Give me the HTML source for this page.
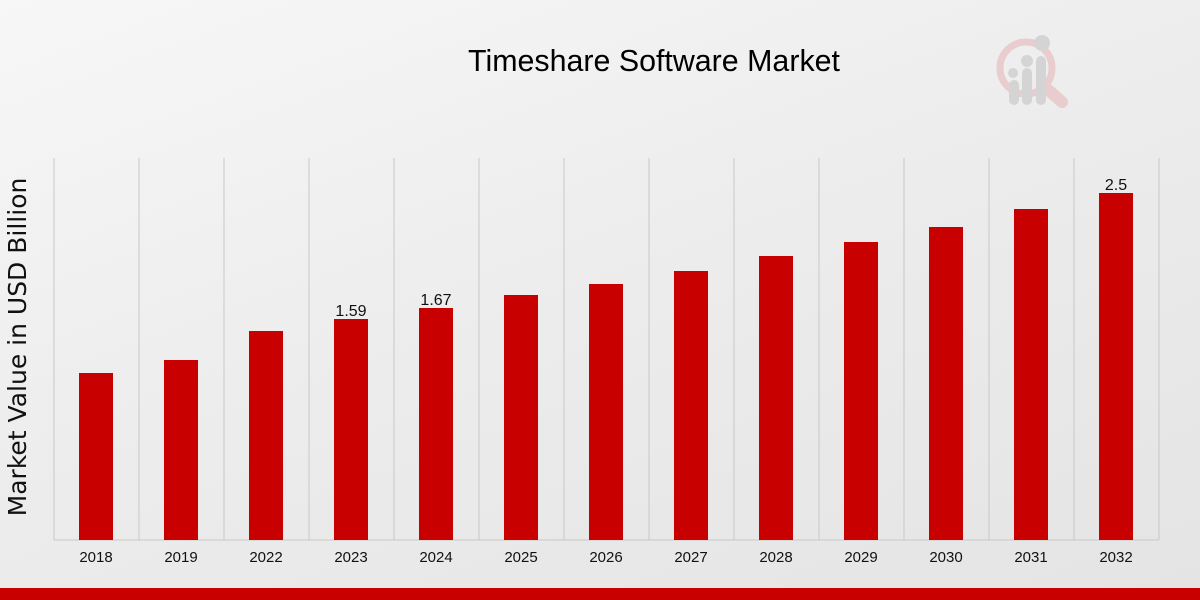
<!DOCTYPE html>
<html><head><meta charset="utf-8"><style>
html,body{margin:0;padding:0}
body{width:1200px;height:600px;overflow:hidden;background:linear-gradient(160deg,#f7f7f7 0%,#ececec 50%,#e4e4e4 100%);font-family:"Liberation Sans",sans-serif;}
</style></head><body>
<svg width="1200" height="600" xmlns="http://www.w3.org/2000/svg" style="position:absolute;left:0;top:0">
<text x="654" y="71" text-anchor="middle" font-size="31" font-family="Liberation Sans, sans-serif" transform="translate(654,0) scale(0.98,1) translate(-654,0)">Timeshare Software Market</text>
<g opacity="0.9">
<circle cx="1026" cy="68" r="26" fill="none" stroke="#e8c9cb" stroke-width="7"/>
<line x1="1046" y1="88" x2="1062" y2="102" stroke="#e8c9cb" stroke-width="12" stroke-linecap="round"/>
<rect x="1009" y="80" width="10" height="25" rx="5" fill="#d2d2d2"/>
<rect x="1022" y="68" width="10" height="37" rx="5" fill="#d2d2d2"/>
<rect x="1036" y="56" width="10" height="49" rx="5" fill="#d2d2d2"/>
<circle cx="1013" cy="73" r="5" fill="#d2d2d2"/><circle cx="1027" cy="61" r="6" fill="#d2d2d2"/><circle cx="1042" cy="43" r="8" fill="#d2d2d2"/>
</g>
<g stroke="#c8c8c8" stroke-width="1">
<line x1="54" y1="158" x2="54" y2="540"/><line x1="139" y1="158" x2="139" y2="540"/><line x1="224" y1="158" x2="224" y2="540"/><line x1="309" y1="158" x2="309" y2="540"/><line x1="394" y1="158" x2="394" y2="540"/><line x1="479" y1="158" x2="479" y2="540"/><line x1="564" y1="158" x2="564" y2="540"/><line x1="649" y1="158" x2="649" y2="540"/><line x1="734" y1="158" x2="734" y2="540"/><line x1="819" y1="158" x2="819" y2="540"/><line x1="904" y1="158" x2="904" y2="540"/><line x1="989" y1="158" x2="989" y2="540"/><line x1="1074" y1="158" x2="1074" y2="540"/><line x1="1159" y1="158" x2="1159" y2="540"/>
<line x1="54" y1="540" x2="1159" y2="540"/>
</g>
<g fill="#c80000">
<rect x="79" y="373" width="34" height="167"/>
<rect x="164" y="360" width="34" height="180"/>
<rect x="249" y="331" width="34" height="209"/>
<rect x="334" y="319" width="34" height="221"/>
<rect x="419" y="308" width="34" height="232"/>
<rect x="504" y="295" width="34" height="245"/>
<rect x="589" y="284" width="34" height="256"/>
<rect x="674" y="271" width="34" height="269"/>
<rect x="759" y="256" width="34" height="284"/>
<rect x="844" y="242" width="34" height="298"/>
<rect x="929" y="227" width="34" height="313"/>
<rect x="1014" y="209" width="34" height="331"/>
<rect x="1099" y="193" width="34" height="347"/>
</g>
<g font-size="16" text-anchor="middle" fill="#111">
<text x="351" y="316">1.59</text><text x="436" y="305">1.67</text><text x="1116" y="190">2.5</text>
</g>
<g font-size="15" text-anchor="middle" fill="#111">
<text x="96" y="562">2018</text><text x="181" y="562">2019</text><text x="266" y="562">2022</text><text x="351" y="562">2023</text><text x="436" y="562">2024</text><text x="521" y="562">2025</text><text x="606" y="562">2026</text><text x="691" y="562">2027</text><text x="776" y="562">2028</text><text x="861" y="562">2029</text><text x="946" y="562">2030</text><text x="1031" y="562">2031</text><text x="1116" y="562">2032</text>
</g>
<text transform="translate(26,347) rotate(-90)" text-anchor="middle" font-size="25" font-family="DejaVu Sans, sans-serif" fill="#111">Market Value in USD Billion</text>
<rect x="0" y="588" width="1200" height="12" fill="#c80000"/>
</svg>
</body></html>
